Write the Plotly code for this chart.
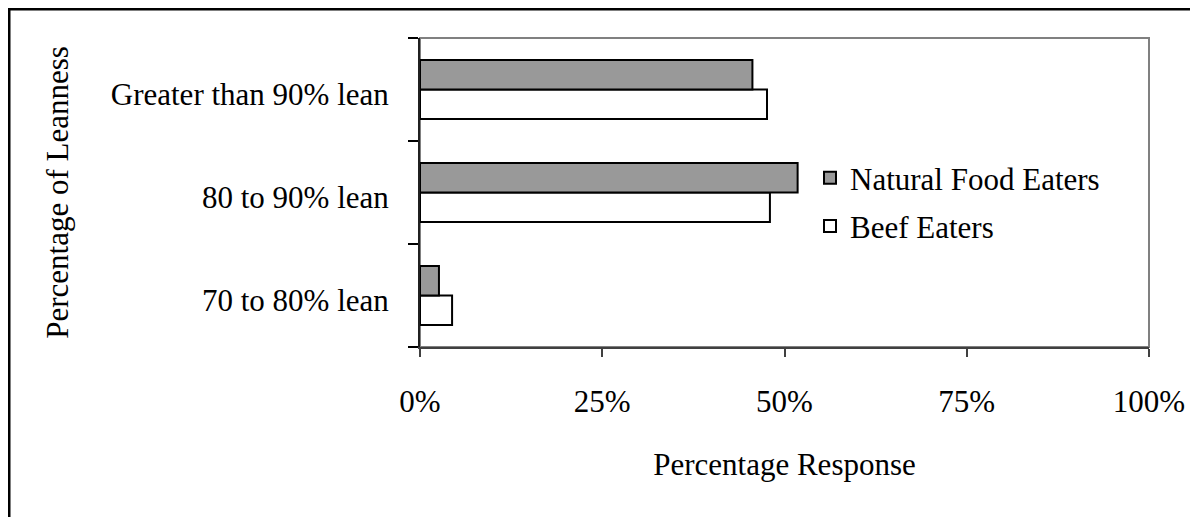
import plotly.graph_objects as go

categories = ["70 to 80% lean", "80 to 90% lean", "Greater than 90% lean"]
natural_food_eaters = [2.6, 51.8, 45.6]
beef_eaters = [4.4, 48.0, 47.6]
x_tick_values = [0, 25, 50, 75, 100]
x_tick_labels = ["0%", "25%", "50%", "75%", "100%"]

FONT = "Liberation Serif, Times New Roman, serif"
FS = 31

W, H = 1198, 517
L, R, T, B = 412, 57, 30, 178
PW, PH = W - L - R, H - T - B

fig = go.Figure()
fig.add_trace(go.Bar(
    y=categories, x=beef_eaters, orientation="h", name="Beef Eaters",
    marker=dict(color="#ffffff", line=dict(color="#000000", width=2)),
    legendgroup="b", legendrank=2,
))
fig.add_trace(go.Bar(
    y=categories, x=natural_food_eaters, orientation="h", name="Natural Food Eaters",
    marker=dict(color="#999999", line=dict(color="#000000", width=2)),
    legendgroup="a", legendrank=1,
))

# plot-area border (gray) and outer frame
fig.add_shape(type="rect", xref="paper", yref="paper", x0=0, x1=1, y0=0, y1=1,
              line=dict(color="#808080", width=2), layer="below")
fig.add_shape(type="rect", xref="paper", yref="paper",
              x0=(1 - L) / PW, x1=(W + 20 - L) / PW,
              y0=-(B + 20) / PH, y1=1 + (T - 1) / PH,
              line=dict(color="#000000", width=3), layer="below")

fig.update_layout(
    width=W, height=H,
    margin=dict(l=L, r=R, t=T, b=B, autoexpand=False),
    paper_bgcolor="#ffffff", plot_bgcolor="#ffffff",
    font=dict(family=FONT, size=FS, color="#000000"),
    barmode="group", bargap=0.427, bargroupgap=0,
    showlegend=True,
    legend=dict(
        x=(802 - L) / PW, y=(H - B - 143) / PH, xanchor="left", yanchor="top",
        traceorder="grouped", tracegroupgap=5,
        bgcolor="rgba(0,0,0,0)", borderwidth=0,
        font=dict(family=FONT, size=FS, color="#000000"),
    ),
    xaxis=dict(
        range=[0, 100], tickvals=x_tick_values, ticktext=x_tick_labels,
        showgrid=False, zeroline=False,
        showline=True, linecolor="#404040", linewidth=2,
        ticks="outside", ticklen=8, tickwidth=1.5, tickcolor="#404040",
        ticklabelstandoff=18,
        title=dict(text="Percentage Response", standoff=35,
                   font=dict(family=FONT, size=FS)),
        automargin=False, fixedrange=True,
    ),
    yaxis=dict(
        type="category", categoryorder="array", categoryarray=categories,
        showgrid=False, zeroline=False,
        showline=True, linecolor="#202020", linewidth=2,
        ticks="outside", ticklen=10, tickwidth=1.5, tickcolor="#000000",
        tickson="boundaries", ticklabelstandoff=23, ticklabelshift=5,
        title=dict(text="Percentage of Leanness", standoff=33,
                   font=dict(family=FONT, size=FS)),
        automargin=False, fixedrange=True,
    ),
)

fig.write_html("out.html", config={"displayModeBar": False})
